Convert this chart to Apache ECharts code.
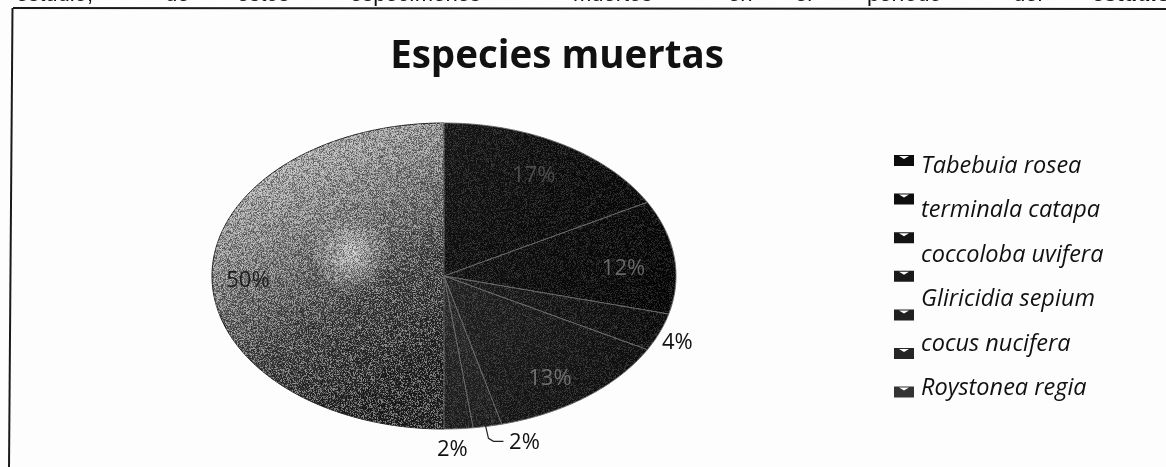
<!DOCTYPE html>
<html>
<head>
<meta charset="utf-8">
<style>html,body{margin:0;padding:0;background:#fdfdfd}#c{width:1166px;height:467px}</style>
<script src="https://cdn.jsdelivr.net/npm/echarts@6/dist/echarts.min.js"></script>
</head>
<body>
<div id="c"></div>
<script>
const titleText = 'Especies muertas';
const species = ['Tabebuia rosea', 'terminala catapa', 'coccoloba uvifera', 'Gliricidia sepium', 'cocus nucifera', 'Roystonea regia', ' '];
const shares = [17, 12, 4, 13, 2, 2, 50];
const headerWords = ['estudio,', 'de', 'estos', 'especímenes', 'muertos', 'en', 'el', 'período', 'del', 'estudio'];

// Presentation only
const headerX = [16, 165, 237, 350, 573, 728, 795, 867, 1013, 1092];
const labelSpots = [
  {r: .76, fill: '#4c4c4c'}, {r: .78, dy: 8, fill: '#666'}, {r: 1.1, dx: -4, dy: 5, fill: '#111'},
  {r: .78, dx: -5, dy: 8, fill: '#707070'}, {r: 1, dx: 37, dy: 16, fill: '#111', leader: 1},
  {r: 1.12, dx: -8, dy: 3, fill: '#111'}, {r: .845, dy: 5, fill: '#1c1c1c'}
];
const sliceFill = [
  ['#161616', '#020202'], ['#141414', '#030303'], ['#1e1e1e', '#0a0a0a'], ['#242424', '#0a0a0a'],
  ['#2c2c2c', '#1c1c1c'], ['#2c2c2c', '#1c1c1c'], null
];
const swatches = ['#0c0c0c', '#0e0e0e', '#141414', '#1a1a1a', '#202020', '#262626', '#333333'];
const CX = 444, CY = 276, RX = 232, RY = 153;
const FONT = '"Open Sans", Lato, sans-serif';
const ICON = 'path://M0,0 L20,0 L20,11 L0,11 Z M5,1 L10,4 L15,1 Z';

// Print-grain texture (a fixed pattern, unrelated to the data)
function grain(alpha, cell) {
  const s = 256, cv = document.createElement('canvas');
  cv.width = cv.height = s;
  const g = cv.getContext('2d');
  let h = 12345;
  for (let y = 0; y < s; y += cell) for (let x = 0; x < s; x += cell) {
    h = (h ^ (h << 13)) | 0; h = (h ^ (h >>> 17)) | 0; h = (h ^ (h << 5)) | 0;
    const v = (h >>> 8) & 255, light = v > 120;
    g.fillStyle = (light ? 'rgba(255,255,255,' : 'rgba(0,0,0,') + (Math.abs(v - 120) / 135 * alpha) + ')';
    g.fillRect(x, y, cell, cell);
  }
  return cv;
}
const grainBig = grain(.5, 1);
const grainDark = grain(.18, 1);

const total = shares.reduce((a, b) => a + b, 0);
const pt = (a, f) => [CX + Math.sin(a) * RX * f, CY - Math.cos(a) * RY * f];

function wedge(a0, a1) {
  const pts = [[CX, CY]];
  const n = Math.max(4, Math.ceil((a1 - a0) * 60));
  for (let k = 0; k <= n; k++) pts.push(pt(a0 + (a1 - a0) * k / n, 1));
  return pts;
}

let running = 0;
const series = shares.map((v, i) => {
  const a0 = running / total * Math.PI * 2;
  running += v;
  const a1 = running / total * Math.PI * 2;
  const mid = (a0 + a1) / 2;
  const spot = labelSpots[i];
  const big = i === 6;
  const colors = sliceFill[i];
  return {
    type: 'custom',
    name: species[i],
    coordinateSystem: 'none',
    itemStyle: {color: swatches[i]},
    z: 2 + (big ? 0 : 1),
    data: [v],
    silent: true,
    renderItem() {
      const points = wedge(a0, a1);
      const fill = big ? {
        type: 'linear', x: 0.15, y: 0.0, x2: 0.8, y2: 0.88,
        colorStops: [{offset: 0, color: '#dcdcdc'}, {offset: .2, color: '#a6a6a6'},
          {offset: .45, color: '#757575'}, {offset: .68, color: '#414141'}, {offset: 1, color: '#1f1f1f'}]
      } : {
        type: 'linear', x: 0, y: 0, x2: 1, y2: 1,
        colorStops: [{offset: 0, color: colors[0]}, {offset: 1, color: colors[1]}]
      };
      const children = [
        {type: 'polygon', shape: {points}, style: {fill, stroke: big ? '#222' : '#6a6a6a', lineWidth: big ? 1 : .9}}
      ];
      if (big) {
        children.push({type: 'polygon', shape: {points}, style: {
          fill: {type: 'radial', x: .6, y: .43, r: .17,
            colorStops: [{offset: 0, color: 'rgba(255,255,255,.6)'}, {offset: 1, color: 'rgba(255,255,255,0)'}]}
        }});
      }
      children.push({type: 'polygon', shape: {points}, style: {fill: {image: big ? grainBig : grainDark, repeat: 'repeat'}}});
      const p = pt(mid, spot.r);
      children.push({type: 'text', style: {
        text: v + '%', x: p[0] + (spot.dx || 0), y: p[1] + (spot.dy || 0),
        align: 'center', verticalAlign: 'middle', fill: spot.fill,
        font: '400 22px ' + FONT
      }});
      if (spot.leader) {
        const e = pt(mid, 1);
        children.push({type: 'polyline', shape: {points: [
          [e[0] - 2, e[1] - 1], [e[0] + 1, e[1] + 12], [e[0] + 6, e[1] + 15], [e[0] + 16, e[1] + 15]
        ]}, style: {fill: 'none', stroke: '#222', lineWidth: 1.2}});
      }
      return {type: 'group', children};
    }
  };
});

const chart = echarts.init(document.getElementById('c'), null, {renderer: 'canvas'});
chart.setOption({
  backgroundColor: '#fdfdfd',
  animation: false,
  title: {
    text: titleText, left: 552, top: 33, textAlign: 'center',
    textStyle: {fontFamily: FONT, fontWeight: 700, fontSize: 38.5, color: '#111'}
  },
  legend: [
    {
      orient: 'vertical', left: 894, top: 155, itemWidth: 20, itemHeight: 11, itemGap: 27.6,
      icon: ICON, selectedMode: false, padding: 0, data: species,
      formatter: () => '', textStyle: {fontSize: 11}
    },
    {
      orient: 'vertical', left: 921, top: 154, itemWidth: 0, itemHeight: 24, itemGap: 21,
      icon: 'none', selectedMode: false, padding: 0, data: species.slice(0, 6),
      itemStyle: {opacity: 0},
      textStyle: {fontFamily: FONT, fontStyle: 'italic', fontWeight: 400, fontSize: 23.5, color: '#111', padding: [0, 0, 0, -5]}
    }
  ],
  graphic: [
    {type: 'line', shape: {x1: 13, y1: 8, x2: 1166, y2: 9}, style: {stroke: '#1a1a1a', lineWidth: 2}, silent: true},
    {type: 'line', shape: {x1: 12.5, y1: 8, x2: 9, y2: 467}, style: {stroke: '#1a1a1a', lineWidth: 2}, silent: true}
  ].concat(headerWords.map((w, i) => ({
    type: 'text', x: headerX[i], y: -16, silent: true,
    style: {text: w, fill: '#111', font: (i === 9 ? '700' : '400') + ' 22px "Liberation Sans", sans-serif'}
  }))),
  series
});
</script>
</body>
</html>
